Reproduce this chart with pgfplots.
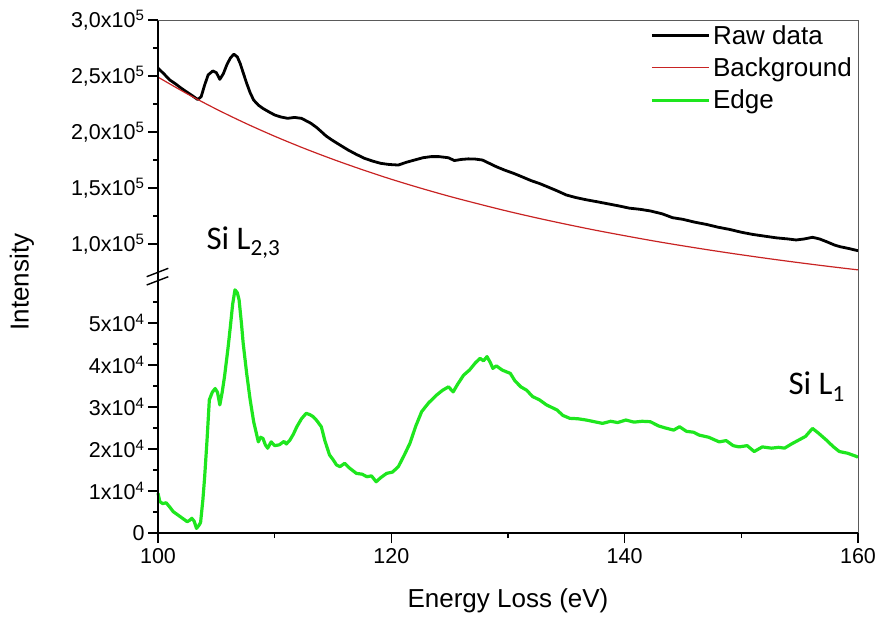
\documentclass[border=0pt]{standalone}
\usepackage{fontspec}
\setmainfont{Liberation Sans}
\newfontfamily\calibri{Carlito}
\usepackage{pgfplots}
\pgfplotsset{compat=1.18}
\definecolor{rawc}{RGB}{0,0,0}
\definecolor{bgc}{RGB}{200,35,35}
\definecolor{edgec}{RGB}{30,230,30}
\definecolor{framec}{RGB}{90,90,90}
\begin{document}
\begin{tikzpicture}[x=1pt,y=1pt]
\useasboundingbox (0,0) rectangle (877,618);
\pgfplotsset{
  common/.style={
    scale only axis, width=700pt, xmin=100, xmax=160,
    axis line style={draw=none},
    tick align=outside, tick pos=left,
    major tick length=10pt, minor tick length=5pt,
    every tick/.style={black, line width=1.4pt},
    /pgf/number format/assume math mode=true,
    ticklabel style={font=\fontsize{21.5}{24}\selectfont},
    xticklabel style={yshift=-2pt},
    clip=false,
  }
}
\begin{axis}[common, name=top, at={(158pt,339pt)}, anchor=south west,
  height=259pt, ymin=0.6875, ymax=3.0,
  xtick=\empty,
  ytick={1,1.5,2,2.5,3}, minor ytick={1.25,1.75,2.25,2.75},
  yticklabels={{1,0x10\textsuperscript{5}},{1,5x10\textsuperscript{5}},{2,0x10\textsuperscript{5}},{2,5x10\textsuperscript{5}},{3,0x10\textsuperscript{5}}},
  legend style={draw=none, fill=none, at={(axis description cs:0.703,0.99)}, anchor=north west,
    font=\fontsize{26}{29}\selectfont, row sep=7pt, inner sep=0pt, nodes={inner sep=2.5pt}},
  legend cell align=left,
  legend image code/.code={\draw[#1] (0pt,0pt) -- (57pt,0pt);},
]
\addplot[rawc, line width=2.8pt, line join=round] coordinates {
(100,2.57) (100.5,2.52) (101,2.465) (101.5,2.43) (102,2.39) (102.5,2.355) (103,2.32) (103.4,2.29) (103.7,2.315) (104,2.42) (104.3,2.51) (104.7,2.545) (105,2.53) (105.3,2.47) (105.6,2.52) (105.9,2.60) (106.2,2.66) (106.5,2.695) (106.8,2.67) (107.05,2.61) (107.3,2.53) (107.6,2.435) (107.9,2.35) (108.2,2.285) (108.6,2.24) (109.0,2.21) (109.5,2.18) (110,2.152) (110.5,2.135) (111.1,2.122) (111.7,2.13) (112.3,2.122) (112.7,2.10) (113.1,2.078) (113.6,2.04) (114,2.003) (114.4,1.965) (114.9,1.929) (115.5,1.89) (116.3,1.839) (117,1.80) (117.7,1.765) (118.4,1.74) (119.1,1.72) (119.8,1.71) (120.6,1.705) (121.3,1.73) (122,1.75) (122.7,1.77) (123.4,1.78) (124.1,1.78) (124.9,1.77) (125.4,1.745) (126,1.755) (126.6,1.76) (127.2,1.758) (127.8,1.75) (128.4,1.72) (129,1.69) (129.7,1.66) (130.5,1.63) (131.2,1.60) (132,1.565) (132.7,1.54) (133.4,1.51) (134.2,1.475) (135,1.4375) (135.8,1.415) (136.7,1.395) (137.6,1.378) (138.5,1.36) (139.5,1.34) (140.4,1.32) (141.3,1.31) (142.2,1.295) (143.2,1.27) (144.1,1.235) (145,1.22) (146,1.195) (147,1.175) (148,1.15) (149,1.13) (150,1.105) (151,1.085) (152,1.07) (153,1.055) (154,1.045) (154.7,1.036) (155.4,1.045) (156.1,1.06) (156.7,1.045) (157.3,1.021) (158,0.99) (158.5,0.975) (159.2,0.96) (160,0.94)
};
\addlegendentry{Raw data}
\addplot[bgc, line width=1.2pt, smooth] coordinates {
(100,2.49) (102.5,2.341) (105,2.204) (107.5,2.078) (110,1.962) (112.5,1.855) (115,1.756) (117.5,1.664) (120,1.578) (122.5,1.499) (125,1.425) (127.5,1.357) (130,1.292) (132.5,1.232) (135,1.176) (137.5,1.123) (140,1.074) (142.5,1.027) (145,0.9835) (147.5,0.9424) (150,0.9036) (152.5,0.8670) (155,0.8325) (157.5,0.7998) (160,0.769)
};
\addlegendentry{Background}
\addlegendimage{edgec, line width=3.2pt}
\addlegendentry{Edge}
\node[anchor=base west, font=\calibri\fontsize{33}{36}\selectfont] at (axis cs:103.86,0.955) {Si L\textsubscript{2,3}};
\end{axis}
\begin{axis}[common, name=bot, at={(158pt,85pt)}, anchor=south west,
  height=254pt, ymin=0, ymax=6.048,
  xtick={100,120,140,160}, minor xtick={110,130,150},
  xticklabels={100,120,140,160},
  ytick={0,1,2,3,4,5}, minor ytick={0.5,1.5,2.5,3.5,4.5,5.5},
  yticklabels={0,{1x10\textsuperscript{4}},{2x10\textsuperscript{4}},{3x10\textsuperscript{4}},{4x10\textsuperscript{4}},{5x10\textsuperscript{4}}},
]
\addplot[edgec, line width=3.2pt, line join=round] coordinates {
(100,0.95) (100.15,0.75) (100.4,0.70) (100.7,0.72) (101,0.62) (101.3,0.51) (101.6,0.45) (101.9,0.39) (102.2,0.33) (102.5,0.27) (102.7,0.30) (102.9,0.35) (103.1,0.28) (103.3,0.11) (103.5,0.18) (103.65,0.25) (103.85,0.8) (104.0,1.34) (104.2,2.2) (104.4,3.17) (104.65,3.35) (104.9,3.44) (105.1,3.35) (105.3,3.05) (105.5,3.35) (105.7,3.72) (106.0,4.4) (106.2,4.91) (106.4,5.45) (106.6,5.79) (106.8,5.72) (106.95,5.55) (107.15,5.0) (107.3,4.52) (107.6,3.8) (107.9,3.17) (108.2,2.65) (108.6,2.17) (108.8,2.28) (109.0,2.25) (109.2,2.10) (109.4,2.02) (109.7,2.17) (110.0,2.08) (110.4,2.10) (110.8,2.18) (111.0,2.12) (111.3,2.21) (111.6,2.35) (111.9,2.53) (112.3,2.72) (112.7,2.85) (113.0,2.82) (113.3,2.77) (113.6,2.68) (114.0,2.53) (114.3,2.2) (114.7,1.86) (115.0,1.75) (115.3,1.62) (115.6,1.58) (116.0,1.66) (116.4,1.55) (117.0,1.42) (117.5,1.40) (117.9,1.34) (118.3,1.36) (118.7,1.22) (119.1,1.32) (119.6,1.42) (120.1,1.45) (120.6,1.58) (121.1,1.85) (121.6,2.14) (122.1,2.55) (122.6,2.89) (123.2,3.10) (123.9,3.29) (124.4,3.40) (124.9,3.48) (125.3,3.36) (125.7,3.55) (126.2,3.76) (126.7,3.88) (127.2,4.05) (127.6,4.16) (127.9,4.10) (128.2,4.20) (128.5,4.05) (128.7,3.92) (129.0,3.98) (129.5,3.88) (130.2,3.80) (130.6,3.62) (131.1,3.48) (131.6,3.40) (132.1,3.25) (132.7,3.17) (133.3,3.05) (134.2,2.93) (134.7,2.80) (135.3,2.73) (136.0,2.72) (136.7,2.69) (137.4,2.65) (138.1,2.61) (138.8,2.66) (139.4,2.63) (140.1,2.69) (140.8,2.64) (141.5,2.66) (142.2,2.65) (142.9,2.55) (143.5,2.50) (144.2,2.45) (144.7,2.53) (145.3,2.42) (145.9,2.40) (146.4,2.33) (147.2,2.28) (148.1,2.17) (148.7,2.20) (149.3,2.08) (149.8,2.05) (150.5,2.08) (151.1,1.94) (151.8,2.05) (152.6,2.02) (153.2,2.04) (153.7,2.02) (154.3,2.12) (154.9,2.21) (155.5,2.30) (156.1,2.49) (156.6,2.38) (157.3,2.21) (157.9,2.05) (158.4,1.94) (159.1,1.90) (159.9,1.82) (160,1.80)
};
\node[anchor=base west, font=\calibri\fontsize{33}{36}\selectfont] at (axis cs:153.74,3.29) {Si L\textsubscript{1}};
\end{axis}
% frame
\draw[black, line width=1.8pt] (bot.south west) -- (bot.south east);
\draw[black, line width=1.8pt] (bot.south west) -- (top.north west);
\draw[framec, line width=0.9pt] (top.north west) -- (top.north east) -- (bot.south east);
% axis break
\draw[black, line width=1.4pt] (146.7,341.3) -- (168.3,349.7);
\draw[black, line width=1.4pt] (146.7,333.0) -- (168.3,341.3);
% axis labels
\node[rotate=90, font=\fontsize{26}{29}\selectfont] at (22,336) {Intensity};
\node[font=\fontsize{26}{29}\selectfont] at (508,17) {Energy Loss (eV)};
\end{tikzpicture}
\end{document}
